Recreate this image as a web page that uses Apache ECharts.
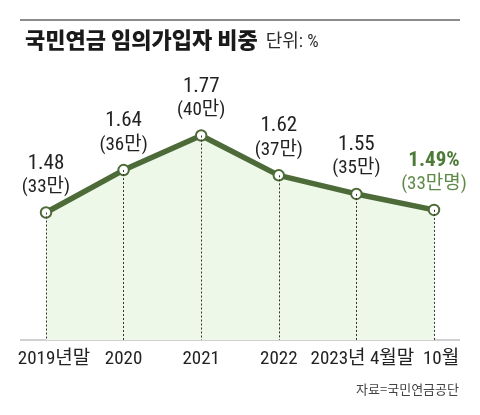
<!DOCTYPE html>
<html><head><meta charset="utf-8">
<script src="https://cdn.jsdelivr.net/npm/echarts@6/dist/echarts.min.js"></script>
<style>html,body{margin:0;padding:0;background:#fff}#c{width:480px;height:415px}</style>
</head><body><div id="c"></div>
<script>
const categories = ['2019년말', '2020', '2021', '2022', '2023년 4월말', '10월'];
const shareValues = [1.48, 1.64, 1.77, 1.62, 1.55, 1.49];
const memberCounts = [33, 36, 40, 37, 35, 33];
const countUnits = ['만', '만', '만', '만', '만', '만명'];
const titleText = '국민연금 임의가입자 비중';
const unitText = '단위: %';
const sourceText = '자료=국민연금공단';

const FONT = "'Roboto Condensed', 'Noto Sans CJK KR', sans-serif";
const KFONT = "'Noto Sans CJK KR', sans-serif";
const LINE = '#4d6b39';
const Y_MIN = 1.0;
const last = shareValues.length - 1;

const chart = echarts.init(document.getElementById('c'), null, {renderer: 'canvas'});

const data = shareValues.map((v, i) => {
  const item = {value: v};
  if (i === last) {
    item.label = {
      formatter: '{v|' + v.toFixed(2) + '%}\n{n|(' + memberCounts[i] + countUnits[i] + ')}',
      rich: {
        v: {fontFamily: FONT, fontSize: 21, fontWeight: 'bold', color: '#4e7a38', lineHeight: 24, align: 'center'},
        n: {fontFamily: FONT, fontSize: 19, color: '#5f8a4a', lineHeight: 24, align: 'center'}
      }
    };
  }
  return item;
});

const dropLines = shareValues.map((v, i) => [
  {coord: [i, v]},
  {coord: [i, Y_MIN]}
]);

chart.setOption({
  animation: false,
  title: {
    text: '{t|' + titleText + '} {u|' + unitText + '}',
    left: 20, top: 24,
    textStyle: {
      rich: {
        t: {fontFamily: KFONT, fontSize: 22, fontWeight: 900, color: '#1a1a1a', verticalAlign: 'bottom'},
        u: {fontFamily: FONT, fontSize: 18, fontWeight: 'normal', color: '#2a2a2a', verticalAlign: 'bottom', padding: [0, 0, 0, 3]}
      }
    }
  },
  graphic: [
    {type: 'line', shape: {x1: 20, y1: 20, x2: 460, y2: 20}, style: {stroke: '#8c8c8c', lineWidth: 2}},
    {type: 'line', shape: {x1: 20, y1: 340, x2: 460, y2: 340}, style: {stroke: '#d0d0d0', lineWidth: 2}, z: 1},
    {type: 'text', right: 21, top: 383, style: {text: sourceText, font: '13px ' + KFONT, fill: '#444'}}
  ],
  grid: {left: 46, right: 46, top: 101, bottom: 75},
  xAxis: {
    type: 'category',
    data: categories,
    boundaryGap: false,
    axisLine: {show: false},
    axisTick: {show: false},
    splitLine: {show: false},
    axisLabel: {
      margin: 10,
      interval: 0,
      formatter: (val, idx) => {
        const k = idx === 0 ? 'a' : (idx === last ? 'c' : (idx === 4 ? 'b' : 'd'));
        return '{' + k + '|' + val + '}';
      },
      rich: {
        a: {fontFamily: FONT, fontSize: 19, color: '#222', padding: [0, 0, 0, 16]},
        b: {fontFamily: FONT, fontSize: 19, color: '#222', padding: [0, 0, 0, 12]},
        c: {fontFamily: FONT, fontSize: 19, color: '#222', padding: [0, 0, 0, 14]},
        d: {fontFamily: FONT, fontSize: 19, color: '#222'}
      }
    }
  },
  yAxis: {
    type: 'value', min: Y_MIN, max: 1.9, show: false
  },
  series: [
    {
      type: 'line',
      data: shareValues,
      symbol: 'none',
      lineStyle: {width: 0},
      z: 1,
      silent: true,
      markLine: {
        silent: true,
        symbol: 'none',
        label: {show: false},
        lineStyle: {color: '#333', width: 1, type: [2, 2]},
        data: dropLines
      }
    },
    {
      type: 'line',
      data: data,
      z: 3,
      symbol: 'circle',
      symbolSize: 10.5,
      itemStyle: {color: '#fff', borderColor: LINE, borderWidth: 2},
      lineStyle: {color: LINE, width: 5.5},
      areaStyle: {color: '#eef8e8', origin: 'start', opacity: 1},
      label: {
        show: true,
        position: 'top',
        distance: 7,
        formatter: p => '{v|' + shareValues[p.dataIndex].toFixed(2) + '}\n{n|(' + memberCounts[p.dataIndex] + countUnits[p.dataIndex] + ')}',
        rich: {
          v: {fontFamily: FONT, fontSize: 21, color: '#222', lineHeight: 24, align: 'center'},
          n: {fontFamily: FONT, fontSize: 19, color: '#222', lineHeight: 24, align: 'center'}
        }
      }
    }
  ]
});
</script></body></html>
